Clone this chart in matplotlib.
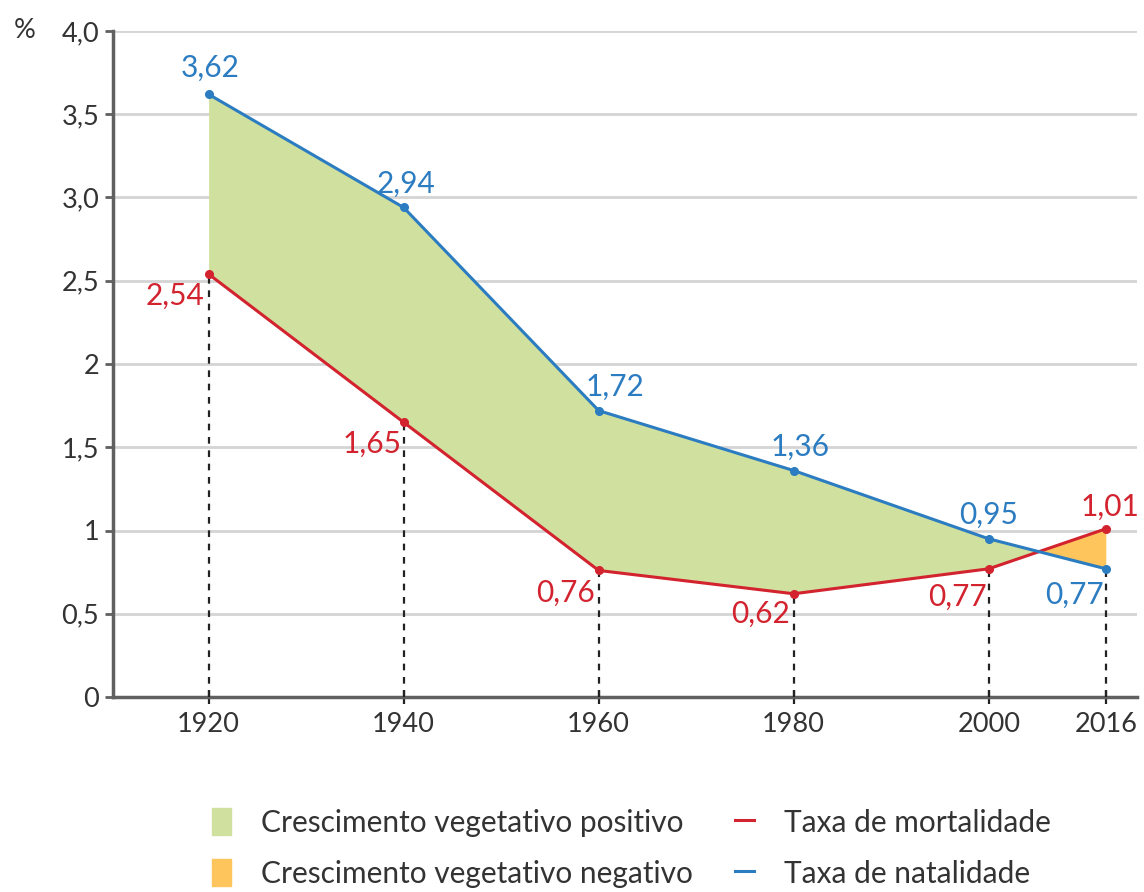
import matplotlib.pyplot as plt
import numpy as np
from matplotlib.patches import Patch
from matplotlib.lines import Line2D

# data
years = ["1920", "1940", "1960", "1980", "2000", "2016"]
natalidade = [3.62, 2.94, 1.72, 1.36, 0.95, 0.77]
mortalidade = [2.54, 1.65, 0.76, 0.62, 0.77, 1.01]
y_ticks = [0, 0.5, 1, 1.5, 2, 2.5, 3.0, 3.5, 4.0]
y_tick_labels = ["0", "0,5", "1", "1,5", "2", "2,5", "3,0", "3,5", "4,0"]

# the original draws the last interval (2000-2016) shorter than the others
x = np.array([0, 1, 2, 3, 4, 4.6])

BLUE = "#2b7cc1"
RED = "#d2232f"
GREEN = "#d0e09e"
ORANGE = "#fdc55c"
GREY = "#606060"

plt.rcParams["font.family"] = ["Lato", "DejaVu Sans"]

fig = plt.figure(figsize=(11.44, 8.92), dpi=100)
ax = fig.add_axes([113 / 1144, 1 - 697 / 892, (1137 - 113) / 1144, (697 - 31) / 892])

nat = np.array(natalidade)
mor = np.array(mortalidade)

ax.fill_between(x, mor, nat, where=nat >= mor, interpolate=True,
                color=GREEN, lw=0, zorder=2)
ax.fill_between(x, mor, nat, where=nat <= mor, interpolate=True,
                color=ORANGE, lw=0, zorder=2)

# dotted drop lines from the lower point to the axis
ax.vlines(x, 0, np.minimum(nat, mor), colors="#222222", lw=1.6,
          linestyles=(0, (3, 3)), zorder=3)

ax.plot(x, mor, color=RED, lw=2.2, marker="o", ms=5.5, zorder=4)
ax.plot(x, nat, color=BLUE, lw=2.2, marker="o", ms=5.5, zorder=5)

fmt = lambda v: f"{v:.2f}".replace(".", ",")

# label offsets in pixels (dx, dy, ha, va)
nat_off = [(2, 12, "center", "bottom"), (2, 10, "center", "bottom"),
           (16, 10, "center", "bottom"), (6, 10, "center", "bottom"),
           (0, 10, "center", "bottom"), (-2, -12, "right", "top")]
mor_off = [(-4, -8, "right", "top"), (-2, -8, "right", "top"),
           (-4, -8, "right", "top"), (-4, -6, "right", "top"),
           (-2, -14, "right", "top"), (4, 8, "center", "bottom")]

for xi, v, (dx, dy, ha, va) in zip(x, natalidade, nat_off):
    ax.annotate(fmt(v), (xi, v), xytext=(dx, dy), textcoords="offset pixels",
                ha=ha, va=va, color=BLUE, fontsize=21.5, zorder=6)
for xi, v, (dx, dy, ha, va) in zip(x, mortalidade, mor_off):
    ax.annotate(fmt(v), (xi, v), xytext=(dx, dy), textcoords="offset pixels",
                ha=ha, va=va, color=RED, fontsize=21.5, zorder=6)

ax.set_xlim(-0.49, 4.76)
ax.set_ylim(0, 4.0)
ax.set_yticks(y_ticks)
ax.set_yticklabels(y_tick_labels)
ax.set_xticks(x)
ax.set_xticklabels(years)
ax.yaxis.grid(True, color="#d4d4d4", lw=2)
ax.set_axisbelow(True)

for side in ["top", "right"]:
    ax.spines[side].set_visible(False)
for side in ["left", "bottom"]:
    ax.spines[side].set_color(GREY)
    ax.spines[side].set_linewidth(2.5)
ax.tick_params(axis="y", direction="out", length=6, width=2, color=GREY,
               labelsize=19.5, labelcolor="#333333", pad=4)
ax.tick_params(axis="x", direction="inout", length=10, width=1.6, color="#222222",
               labelsize=19.5, labelcolor="#333333", pad=6)

fig.text(14 / 1144, 1 - 31 / 892, "%", fontsize=19.5, color="#333333",
         ha="left", va="center")

handles = [Patch(color=GREEN), Patch(color=ORANGE),
           Line2D([], [], color=RED, lw=2.2), Line2D([], [], color=BLUE, lw=2.2)]
labels = ["Crescimento vegetativo positivo", "Crescimento vegetativo negativo",
          "Taxa de mortalidade", "Taxa de natalidade"]
fig.legend(handles, labels, ncol=2, loc="upper left",
           bbox_to_anchor=(197 / 1144, 1 - 793 / 892), frameon=False,
           fontsize=21.5, handlelength=0.65, handleheight=1.0, handletextpad=1.0,
           columnspacing=1.4, labelspacing=0.75, labelcolor="#333333",
           borderpad=0)

fig.savefig("out.png", dpi=100)
